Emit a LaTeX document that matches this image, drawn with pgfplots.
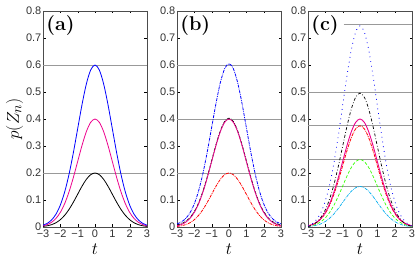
\documentclass[border=0pt]{standalone}
\usepackage{pgfplots}
\usepackage{pgfplotstable}
\pgfplotsset{compat=1.18}
\usepackage{fontspec}
\newfontfamily\ticksans{Liberation Sans}

\pgfplotstableread{
t     a2     a4     a6     c75    c50    c375   c25    c15
-3.00 0.0022 0.0044 0.0067 0.0083 0.0056 0.0042 0.0028 0.0017
-2.75 0.0046 0.0091 0.0137 0.0171 0.0114 0.0085 0.0057 0.0034
-2.50 0.0088 0.0176 0.0264 0.0330 0.0220 0.0165 0.0110 0.0066
-2.25 0.0159 0.0318 0.0477 0.0597 0.0398 0.0298 0.0199 0.0119
-2.00 0.0271 0.0541 0.0812 0.1015 0.0677 0.0508 0.0338 0.0203
-1.75 0.0433 0.0865 0.1298 0.1622 0.1081 0.0811 0.0541 0.0324
-1.50 0.0649 0.1299 0.1948 0.2435 0.1623 0.1217 0.0812 0.0487
-1.25 0.0916 0.1831 0.2747 0.3434 0.2289 0.1717 0.1145 0.0687
-1.00 0.1213 0.2426 0.3639 0.4549 0.3033 0.2274 0.1516 0.0910
-0.75 0.1510 0.3019 0.4529 0.5661 0.3774 0.2831 0.1887 0.1132
-0.50 0.1765 0.3530 0.5295 0.6619 0.4413 0.3309 0.2206 0.1324
-0.25 0.1938 0.3877 0.5815 0.7269 0.4846 0.3635 0.2423 0.1454
 0.00 0.2000 0.4000 0.6000 0.7500 0.5000 0.3750 0.2500 0.1500
 0.25 0.1938 0.3877 0.5815 0.7269 0.4846 0.3635 0.2423 0.1454
 0.50 0.1765 0.3530 0.5295 0.6619 0.4413 0.3309 0.2206 0.1324
 0.75 0.1510 0.3019 0.4529 0.5661 0.3774 0.2831 0.1887 0.1132
 1.00 0.1213 0.2426 0.3639 0.4549 0.3033 0.2274 0.1516 0.0910
 1.25 0.0916 0.1831 0.2747 0.3434 0.2289 0.1717 0.1145 0.0687
 1.50 0.0649 0.1299 0.1948 0.2435 0.1623 0.1217 0.0812 0.0487
 1.75 0.0433 0.0865 0.1298 0.1622 0.1081 0.0811 0.0541 0.0324
 2.00 0.0271 0.0541 0.0812 0.1015 0.0677 0.0508 0.0338 0.0203
 2.25 0.0159 0.0318 0.0477 0.0597 0.0398 0.0298 0.0199 0.0119
 2.50 0.0088 0.0176 0.0264 0.0330 0.0220 0.0165 0.0110 0.0066
 2.75 0.0046 0.0091 0.0137 0.0171 0.0114 0.0085 0.0057 0.0034
 3.00 0.0022 0.0044 0.0067 0.0083 0.0056 0.0042 0.0028 0.0017
}\datatab

\pgfplotsset{
  panel/.style={
    scale only axis,
    width=104bp, height=216bp,
    xmin=-3, xmax=3, ymin=0, ymax=0.8,
    xtick={-3,-2,-1,0,1,2,3},
    xticklabels={−3,−2,−1,0,1,2,3},
    ytick={0,0.1,0.2,0.3,0.4,0.5,0.6,0.7,0.8},
    yticklabels={0,0.1,0.2,0.3,0.4,0.5,0.6,0.7,0.8},
    tick align=inside,
    major tick length=2.5bp,
    tick style={black, line width=0.3pt},
    ticklabel style={font=\ticksans\fontsize{11}{11}\selectfont, text=black!80, inner sep=1.5bp},
    xticklabel style={yshift=-1bp},
    axis line style={line width=0.4pt, black!70},
    xlabel={$t$},
    xlabel style={font=\fontsize{19}{19}\selectfont, yshift=-1bp},
    clip=true,
  },
  refline/.style={gray!80, line width=0.6pt, forget plot},
}

\begin{document}
\begin{tikzpicture}
\useasboundingbox (0,0) rectangle (415bp,260bp);

% (a)
\begin{axis}[panel, at={(43bp,33bp)}, anchor=south west,
  ylabel={$p(Z_n)$},
  ylabel style={font=\fontsize{19}{19}\selectfont, yshift=-2bp}]
\addplot[refline] coordinates {(-3,0.2) (3,0.2)};
\addplot[refline] coordinates {(-3,0.6) (3,0.6)};
\addplot[black, line width=0.8pt, smooth] table[x=t,y=a2] {\datatab};
\addplot[magenta, line width=0.8pt, smooth] table[x=t,y=a4] {\datatab};
\addplot[blue, line width=0.8pt, smooth] table[x=t,y=a6] {\datatab};
\node[anchor=north west, font=\fontsize{20}{20}\selectfont\bfseries, inner sep=1bp] at (rel axis cs:0.02,0.985) {(a)};
\end{axis}

% (b)
\begin{axis}[panel, at={(177bp,33bp)}, anchor=south west]
\addplot[refline] coordinates {(-3,0.2) (3,0.2)};
\addplot[refline] coordinates {(-3,0.4) (3,0.4)};
\addplot[refline] coordinates {(-3,0.6) (3,0.6)};
\addplot[red, line width=0.8pt, densely dash dot, smooth] table[x=t,y=a2] {\datatab};
\addplot[black, line width=0.8pt, densely dash dot, smooth] table[x=t,y expr=\thisrow{a4}+0.003] {\datatab};
\addplot[magenta, line width=0.8pt, smooth] table[x=t,y=a4] {\datatab};
\addplot[blue, line width=0.8pt, densely dash dot, smooth] table[x=t,y expr=\thisrow{a6}+0.005] {\datatab};
\node[anchor=north west, font=\fontsize{20}{20}\selectfont\bfseries, inner sep=1bp] at (rel axis cs:0.02,0.985) {(b)};
\end{axis}

% (c)
\begin{axis}[panel, at={(308bp,33bp)}, anchor=south west]
\addplot[refline] coordinates {(-3,0.15) (3,0.15)};
\addplot[refline] coordinates {(-3,0.25) (3,0.25)};
\addplot[refline] coordinates {(-3,0.375) (3,0.375)};
\addplot[refline] coordinates {(-3,0.5) (3,0.5)};
\addplot[refline] coordinates {(-0.95,0.75) (3,0.75)};
\addplot[cyan, line width=0.7pt, densely dash dot, smooth] table[x=t,y=c15] {\datatab};
\addplot[green!80!yellow, line width=0.7pt, densely dashed, smooth] table[x=t,y=c25] {\datatab};
\addplot[red, line width=0.8pt, densely dash dot, smooth] table[x=t,y=c375] {\datatab};
\addplot[magenta, line width=0.9pt, smooth] table[x=t,y=a4] {\datatab};
\addplot[black, line width=0.7pt, dash dot, smooth] table[x=t,y expr=\thisrow{c50}-0.004] {\datatab};
\addplot[blue, line width=0.8pt, loosely dotted, smooth] table[x=t,y expr=\thisrow{c75}-0.005] {\datatab};
\node[anchor=north west, font=\fontsize{20}{20}\selectfont\bfseries, inner sep=1bp] at (rel axis cs:0.02,0.985) {(c)};
\end{axis}
\end{tikzpicture}
\end{document}
